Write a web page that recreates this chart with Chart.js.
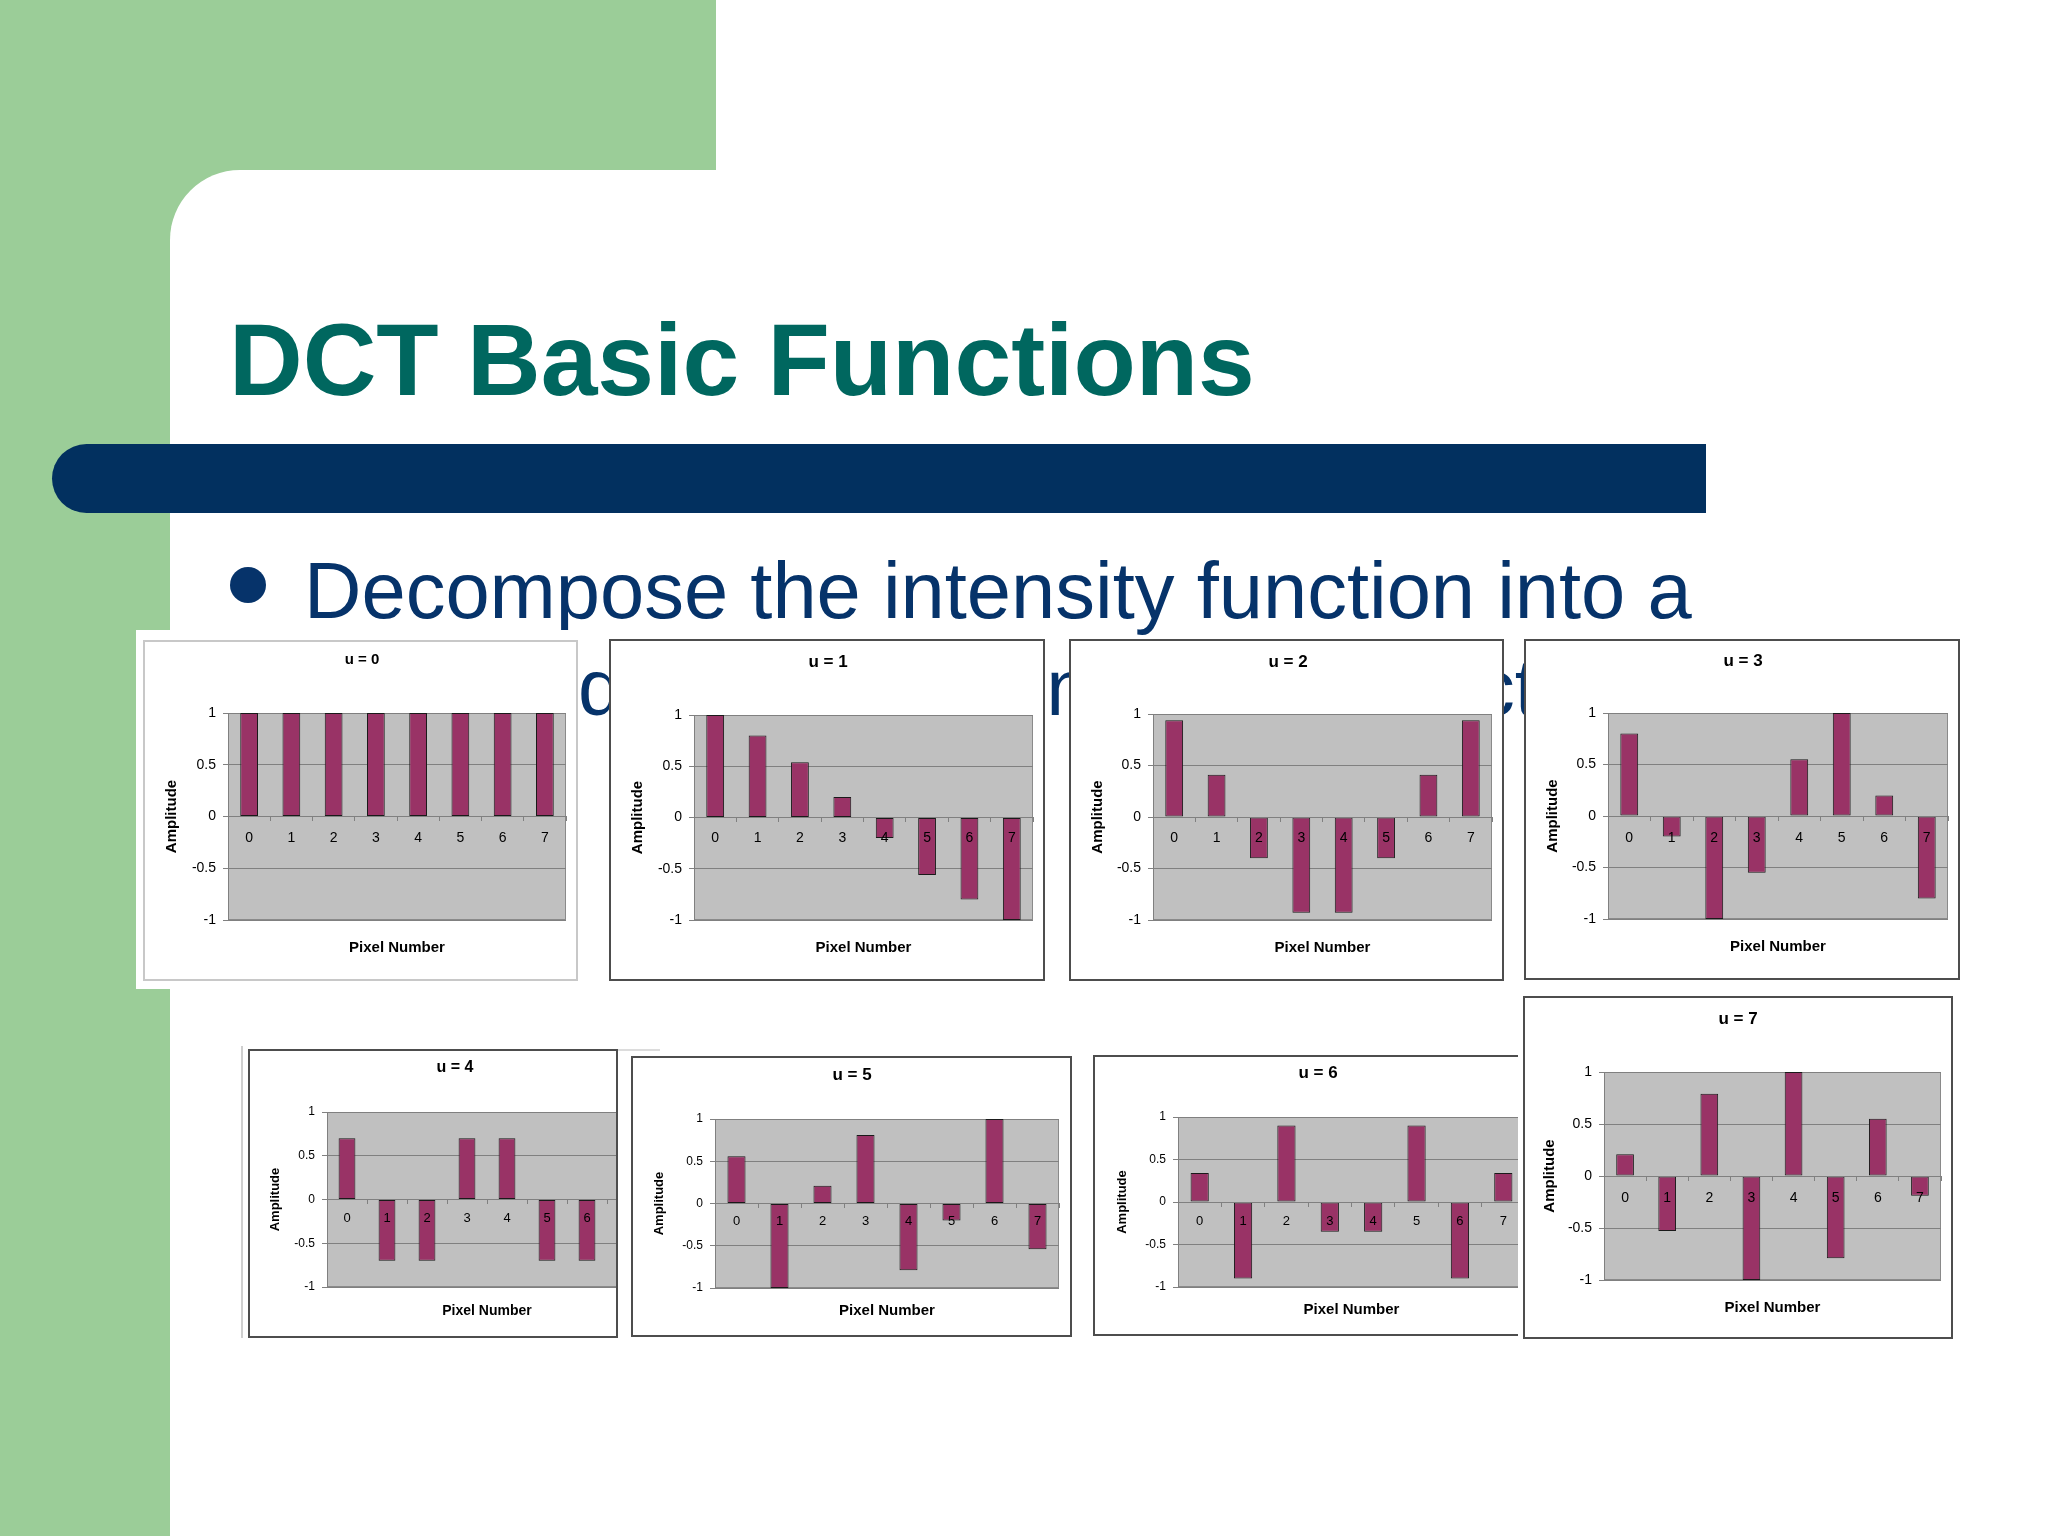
<!DOCTYPE html>
<html><head><meta charset="utf-8">
<script src="https://cdn.jsdelivr.net/npm/chart.js@4.4.1/dist/chart.umd.min.js"></script>
<style>
html,body{margin:0;padding:0;width:2048px;height:1536px;overflow:hidden;background:#fff;font-family:"Liberation Sans",Arial,sans-serif;}
.abs{position:absolute;}
.box{position:absolute;box-sizing:border-box;background:#fff;overflow:hidden;}
.box canvas{position:absolute;left:0;top:0;}
</style></head><body>
<div class="abs" style="left:0;top:0;width:716px;height:170px;background:#9bcd98"></div>
<div class="abs" style="left:0;top:0;width:170px;height:1536px;background:#9bcd98"></div>
<div class="abs" style="left:170px;top:170px;width:80px;height:80px;background:#9bcd98"></div>
<div class="abs" style="left:170px;top:170px;width:1878px;height:1366px;background:#fff;border-top-left-radius:70px"></div>
<div class="abs" style="left:229px;top:310px;font-size:102px;line-height:101px;font-weight:bold;color:#00675f;white-space:nowrap">DCT Basic Functions</div>
<div class="abs" style="left:52px;top:444px;width:1654px;height:69px;background:#02305f;border-radius:35px 0 0 35px"></div>
<div class="abs" style="left:230px;top:567px;width:36px;height:36px;border-radius:50%;background:#06336a"></div>
<div class="abs" style="left:304px;top:551px;font-size:79.5px;line-height:80px;color:#06336a;white-space:nowrap">Decompose the intensity function into a</div>
<div class="abs" style="left:304px;top:648px;font-size:79.5px;line-height:80px;color:#06336a;white-space:nowrap">weighted sum of cosine basis functions</div>
<div class="abs" style="left:136px;top:630px;width:444px;height:359px;background:#fff"></div>
<div class="abs" style="left:241px;top:1046px;width:2px;height:292px;background:#cfcfcf"></div>
<div class="abs" style="left:618px;top:1049px;width:42px;height:2px;background:#dcdcdc"></div>
<div id="charts"></div>
<script>
// ---- data ----
const categories = ['0','1','2','3','4','5','6','7'];
const chartTitles = ['u = 0','u = 1','u = 2','u = 3','u = 4','u = 5','u = 6','u = 7'];
const u0 = [1, 1, 1, 1, 1, 1, 1, 1];
const u1 = [1, 0.8, 0.54, 0.2, -0.2, -0.56, -0.8, -1];
const u2 = [0.94, 0.41, -0.4, -0.93, -0.93, -0.4, 0.41, 0.94];
const u3 = [0.8, -0.2, -1, -0.55, 0.55, 1, 0.2, -0.8];
const u4 = [0.7, -0.7, -0.7, 0.7, 0.7, -0.7, -0.7, 0.7];
const u5 = [0.56, -1, 0.21, 0.81, -0.79, -0.2, 1, -0.54];
const u6 = [0.34, -0.9, 0.9, -0.35, -0.35, 0.9, -0.9, 0.34];
const u7 = [0.21, -0.53, 0.79, -1, 1, -0.79, 0.55, -0.19];
const seriesList = [u0, u1, u2, u3, u4, u5, u6, u7];
const yTickValues = [-1, -0.5, 0, 0.5, 1];
const yTickLabels = ['-1', '-0.5', '0', '0.5', '1'];
const xAxisTitle = 'Pixel Number';
const yAxisTitle = 'Amplitude';

// ---- layout (page pixels) ----
const layoutSpecs = [
  {box:[143,640,578,981], bc:'#c8c8c8', plot:[228,713,566,920], tx:362, ty:660, ax:172, sy:948, dy:22, fT:15, fY:14, fX:14, fS:15, fA:15},
  {box:[609,639,1045,981], bc:'#4d4d4d', plot:[694,715,1033,920], tx:828, ty:662, ax:638, sy:948, dy:21, fT:17, fY:14, fX:14, fS:15, fA:15},
  {box:[1069,639,1504,981], bc:'#4d4d4d', plot:[1153,714,1492,920], tx:1288, ty:662, ax:1098, sy:948, dy:21, fT:17, fY:14, fX:14, fS:15, fA:15},
  {box:[1524,639,1960,980], bc:'#4d4d4d', plot:[1608,713,1948,919], tx:1743, ty:661, ax:1553, sy:947, dy:22, fT:17, fY:14, fX:14, fS:15, fA:15},
  {box:[248,1049,618,1338], bc:'#4d4d4d', plot:[327,1112,647,1287], tx:455, ty:1068, ax:275, sy:1311, dy:19, fT:16, fY:12, fX:13, fS:14, fA:13},
  {box:[631,1056,1072,1337], bc:'#4d4d4d', plot:[715,1119,1059,1288], tx:852, ty:1075, ax:659, sy:1311, dy:18, fT:17, fY:12, fX:13, fS:15, fA:13},
  {box:[1093,1055,1518,1336], bc:'#4d4d4d', noRight:true, plot:[1178,1117,1525,1287], tx:1318, ty:1073, ax:1122, sy:1310, dy:19, fT:17, fY:12, fX:13, fS:15, fA:13},
  {box:[1523,996,1953,1339], bc:'#4d4d4d', plot:[1604,1072,1941,1280], tx:1738, ty:1019, ax:1550, sy:1308, dy:22, fT:17, fY:14, fX:14, fS:15, fA:15}
];

Chart.defaults.font.family = '"Liberation Sans", Arial, sans-serif';
Chart.defaults.color = '#000';

const plotBg = {
  id: 'plotBg',
  beforeDraw(chart) {
    const {ctx, chartArea: a} = chart;
    ctx.save();
    ctx.fillStyle = '#c0c0c0';
    ctx.fillRect(a.left, a.top, a.width, a.height);
    ctx.strokeStyle = '#8a8a8a';
    ctx.lineWidth = 1;
    ctx.strokeRect(a.left + 0.5, a.top + 0.5, a.width - 1, a.height - 1);
    ctx.restore();
  }
};

const host = document.getElementById('charts');
layoutSpecs.forEach((s, i) => {
  const bw = 2;
  const [bl, bt, br, bb] = s.box;
  const [pl, pt, pr, pb] = s.plot;
  const div = document.createElement('div');
  div.className = 'box';
  div.style.left = bl + 'px';
  div.style.top = bt + 'px';
  div.style.width = (br - bl) + 'px';
  div.style.height = (bb - bt) + 'px';
  div.style.border = bw + 'px solid ' + s.bc;
  if (s.noRight) div.style.borderRight = 'none';
  host.appendChild(div);

  const cL = bl + bw, cT = bt + bw;
  const cW = Math.max(br - bw, pr + 4) - cL;
  const cH = bb - bw - cT;
  const canvas = document.createElement('canvas');
  canvas.width = cW; canvas.height = cH;
  canvas.style.width = cW + 'px'; canvas.style.height = cH + 'px';
  div.appendChild(canvas);

  const padL = Math.max(0, 2 * s.tx - cL - pr);
  const padR = cW - (pr - cL);
  const tT = s.ty - cT - 0.6 * s.fT;
  const tB = (pt - cT) - tT - 1.2 * s.fT;
  const sT = s.sy - pb - 0.6 * s.fS;
  const subH = sT + 1.2 * s.fS;
  const padB = cH - (pb - cT) - subH;
  const yW = pl - cL - padL;
  const ampPad = s.ax - cL - padL - 0.6 * s.fA;
  const xPad = s.dy - 0.6 * s.fX - 4;

  new Chart(canvas, {
    type: 'bar',
    data: {
      labels: categories,
      datasets: [{
        data: seriesList[i],
        backgroundColor: '#993366',
        borderColor: '#1a1a1a',
        borderWidth: 1,
        borderSkipped: false,
        barPercentage: 0.42,
        categoryPercentage: 1
      }]
    },
    options: {
      responsive: false,
      animation: false,
      devicePixelRatio: 1,
      layout: {padding: {left: padL, right: padR, top: 0, bottom: padB}},
      plugins: {
        legend: {display: false},
        tooltip: {enabled: false},
        title: {display: true, text: chartTitles[i], color: '#000',
          font: {size: s.fT, weight: 'bold'}, padding: {top: tT, bottom: tB}},
        subtitle: {display: true, text: xAxisTitle, position: 'bottom', fullSize: false, color: '#000',
          font: {size: s.fS, weight: 'bold'}, padding: {top: sT, bottom: 0}}
      },
      scales: {
        y: {
          min: -1, max: 1,
          afterFit(scale) { scale.width = yW; },
          ticks: {stepSize: 0.5, padding: 7, color: '#000', font: {size: s.fY},
            callback: (v) => { const k = yTickValues.indexOf(v); return k >= 0 ? yTickLabels[k] : ''; }},
          grid: {color: '#808080', lineWidth: 1, tickLength: 5, drawTicks: true},
          border: {display: true, color: '#808080'},
          title: {display: true, text: yAxisTitle, color: '#000', font: {size: s.fA, weight: 'bold'},
            padding: {top: ampPad, bottom: 0}}
        },
        x: {
          position: {y: 0},
          offset: true,
          ticks: {z: 1, autoSkip: false, maxRotation: 0, minRotation: 0, padding: xPad, color: '#000', font: {size: s.fX}},
          grid: {display: true, drawOnChartArea: false, drawTicks: true, tickLength: 4, offset: true, color: '#808080'},
          border: {display: true, color: '#808080', width: 1, z: 1}
        }
      }
    },
    plugins: [plotBg]
  });
});
</script>
</body></html>
